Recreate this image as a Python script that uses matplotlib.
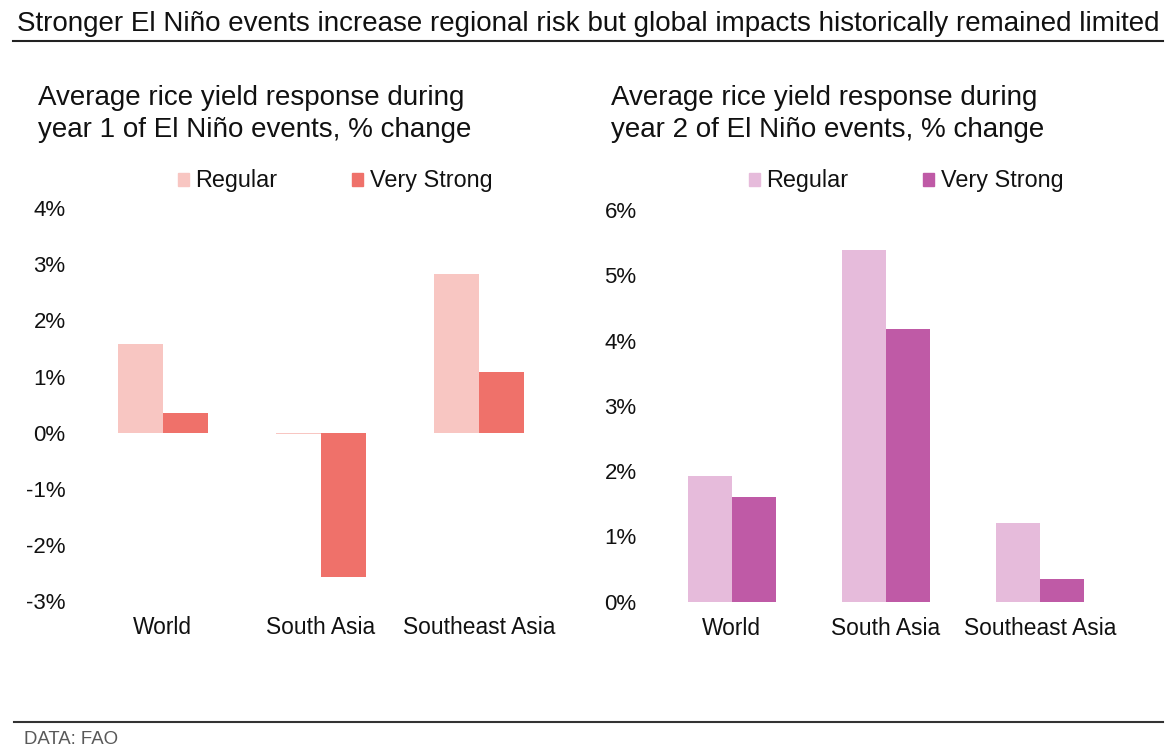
import numpy as np
import matplotlib
matplotlib.use("Agg")
import matplotlib.pyplot as plt
from matplotlib.patches import Patch
from matplotlib.lines import Line2D
from matplotlib.ticker import FuncFormatter

plt.rcParams['font.family'] = ['Liberation Sans', 'DejaVu Sans']

regions = ['World', 'South Asia', 'Southeast Asia']
series = ['Regular', 'Very Strong']

# % change in rice yield
year1_regular = [1.58, -0.03, 2.82]
year1_strong = [0.36, -2.58, 1.08]
year2_regular = [1.92, 5.39, 1.20]
year2_strong = [1.60, 4.17, 0.35]

year1_ticks = [-3, -2, -1, 0, 1, 2, 3, 4]
year2_ticks = [0, 1, 2, 3, 4, 5, 6]

W, H = 1175, 753
TXT = '#111111'
fig = plt.figure(figsize=(W / 100, H / 100), dpi=100)


def px_axes(x0, x1, ytop, ybot):
    return fig.add_axes([x0 / W, 1 - ybot / H, (x1 - x0) / W, (ybot - ytop) / H])


def draw_panel(ax, reg, strong, ticks, colors, subtitle, sub_x, leg_x):
    x = np.arange(len(regions))
    bw = 0.285
    ax.bar(x - bw / 2, reg, bw, color=colors[0], label=series[0])
    ax.bar(x + bw / 2, strong, bw, color=colors[1], label=series[1])
    ax.set_xlim(-0.5, len(regions) - 0.5)
    ax.set_ylim(ticks[0], ticks[-1])
    ax.set_yticks(ticks)
    ax.yaxis.set_major_formatter(FuncFormatter(lambda v, p: f"{v:.0f}%"))
    ax.set_xticks(x)
    ax.set_xticklabels(regions)
    for s in ax.spines.values():
        s.set_visible(False)
    ax.tick_params(axis='y', length=0, pad=13, labelsize=16, labelcolor=TXT)
    ax.tick_params(axis='x', length=0, pad=11, labelsize=16.4, labelcolor=TXT)

    handles = [Patch(color=colors[0]), Patch(color=colors[1])]
    ax.legend(handles, series, loc='center left', ncol=2, frameon=False,
              bbox_to_anchor=(leg_x / W, 1 - 181 / H), bbox_transform=fig.transFigure,
              borderaxespad=0, borderpad=0, fontsize=16.8,
              handlelength=0.47, handleheight=0.47, handletextpad=0.28,
              columnspacing=3.2, labelcolor=TXT)

    for i, line in enumerate(subtitle):
        fig.text(sub_x / W, 1 - (105 + 32 * i) / H, line, fontsize=20, color=TXT,
                 va='baseline', ha='left')


ax1 = px_axes(83.7, 558, 208.3, 601)
draw_panel(ax1, year1_regular, year1_strong, year1_ticks,
           ['#F8C6C2', '#EF716A'],
           ['Average rice yield response during', 'year 1 of El Niño events, % change'],
           38, 178)

ax2 = px_axes(654.7, 1117, 209.9, 601.7)
draw_panel(ax2, year2_regular, year2_strong, year2_ticks,
           ['#E6BBDB', '#BF5AA6'],
           ['Average rice yield response during', 'year 2 of El Niño events, % change'],
           611, 749)

fig.text(17 / W, 1 - 31 / H,
         'Stronger El Niño events increase regional risk but global impacts historically remained limited',
         fontsize=20, color=TXT, va='baseline', ha='left')
fig.add_artist(Line2D([13 / W, 1163 / W], [1 - 41 / H] * 2, transform=fig.transFigure,
                      color='#222222', lw=1.5))
fig.add_artist(Line2D([14 / W, 1163 / W], [1 - 721.7 / H] * 2, transform=fig.transFigure,
                      color='#333333', lw=1.5))
fig.text(24 / W, 1 - 744 / H, 'DATA: FAO', fontsize=13.4, color='#595959',
         va='baseline', ha='left')

fig.savefig('out.png', dpi=100)
